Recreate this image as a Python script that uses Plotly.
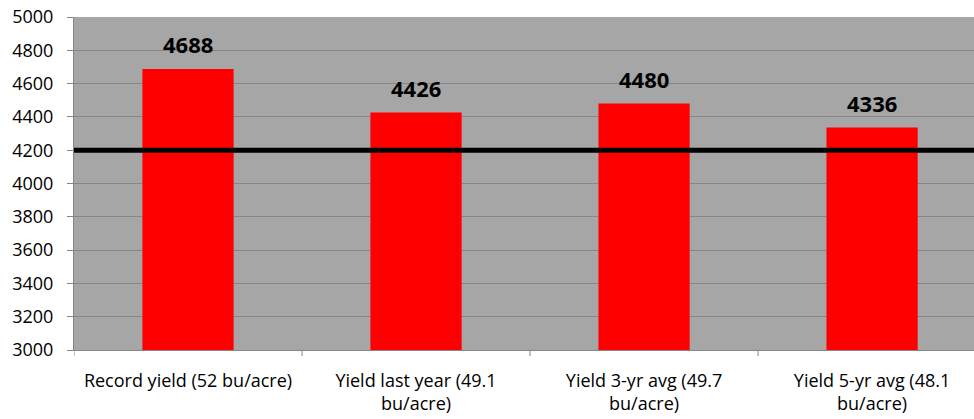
import plotly.graph_objects as go

categories = ["Record yield (52 bu/acre)", "Yield last year (49.1<br>bu/acre)",
              "Yield 3-yr avg (49.7<br>bu/acre)", "Yield 5-yr avg (48.1<br>bu/acre)"]
values = [4688, 4426, 4480, 4336]
threshold = 4200
y_ticks = list(range(3000, 5001, 200))

fig = go.Figure()
fig.add_trace(go.Bar(x=list(range(len(categories))), y=values, width=0.40,
                     marker=dict(color="#FF0000", line=dict(width=0)),
                     showlegend=False, hoverinfo="y"))
fig.add_shape(type="line", xref="paper", x0=0, x1=1, yref="y", y0=threshold, y1=threshold,
              line=dict(color="black", width=5))
for i, v in enumerate(values):
    fig.add_annotation(x=i, y=v, text="<b>%d</b>" % v, showarrow=False, yshift=25,
                       font=dict(size=22, color="black", family="Open Sans"))

fig.update_layout(
    width=974, height=419,
    margin=dict(l=74, r=0, t=17, b=69),
    paper_bgcolor="white", plot_bgcolor="#A6A6A6",
    font=dict(family="Open Sans", size=18, color="black"),
    xaxis=dict(tickmode="array", tickvals=list(range(len(categories))), ticktext=categories,
               range=[-0.5, 3.447], showgrid=False, showline=True, linecolor="#868686",
               ticks="", zeroline=False, tickfont=dict(size=18), ticklabelstandoff=14),
    yaxis=dict(range=[3000, 5000], tickvals=y_ticks, showgrid=True, gridcolor="#868686",
               gridwidth=1, showline=True, linecolor="#868686", ticks="outside",
               ticklen=6, tickcolor="#868686", zeroline=False, tickfont=dict(size=18),
               ticklabelstandoff=10),
)
# category boundary ticks on x axis
for b in [-0.5, 0.5, 1.5, 2.5]:
    fig.add_shape(type="line", xref="x", yref="paper", x0=b, x1=b, y0=0, y1=-0.018,
                  line=dict(color="#868686", width=1))

fig.write_html("out.html")
